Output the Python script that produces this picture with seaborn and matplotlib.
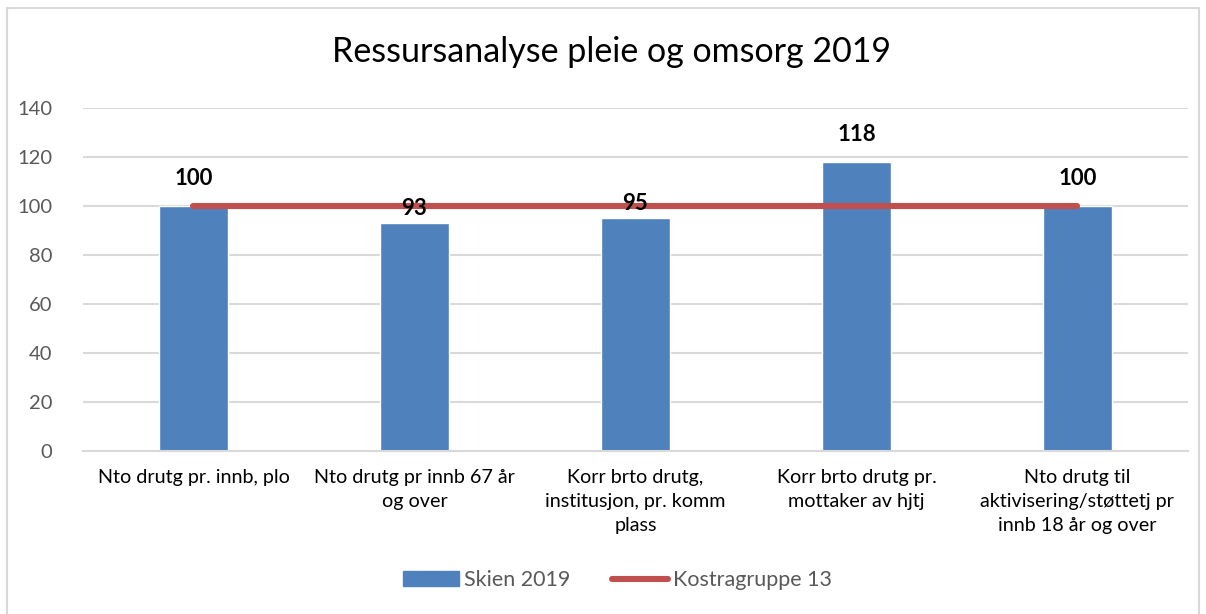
import matplotlib
matplotlib.use("Agg")
import matplotlib.pyplot as plt
from matplotlib.patches import Rectangle
from matplotlib.lines import Line2D
import seaborn as sns
import pandas as pd

categories = [
    "Nto drutg pr. innb, plo",
    "Nto drutg pr innb 67 år\nog over",
    "Korr brto drutg,\ninstitusjon, pr. komm\nplass",
    "Korr brto drutg pr.\nmottaker av hjtj",
    "Nto drutg til\naktivisering/støttetj pr\ninnb 18 år og over",
]
skien_2019 = [100, 93, 95, 118, 100]
kostragruppe_13 = [100, 100, 100, 100, 100]
y_ticks = [0, 20, 40, 60, 80, 100, 120, 140]

BAR_COLOR = "#4F81BD"
LINE_COLOR = "#C0504D"
GRID_COLOR = "#D9D9D9"
TEXT_GREY = "#595959"

sns.set_theme(style="white")
plt.rcParams["font.family"] = ["Lato", "DejaVu Sans"]

fig = plt.figure(figsize=(12.06, 6.14), dpi=100)
ax = fig.add_axes([0.0688, 0.2655, 0.9162, 0.5586])

df = pd.DataFrame({"kategori": categories, "verdi": skien_2019})
sns.barplot(data=df, x="kategori", y="verdi", color=BAR_COLOR, saturation=1,
            width=0.31, ax=ax, zorder=2)

ax.plot(range(len(categories)), kostragruppe_13, color=LINE_COLOR, lw=4.4,
        solid_capstyle="round", zorder=3)

# value labels above the bars
label_offsets = [19.5, 10.5, 10.5, 20, 19.5]
for i, (v, off) in enumerate(zip(skien_2019, label_offsets)):
    ax.annotate(f"{v}", (i, v), xytext=(0, off), textcoords="offset points",
                ha="center", va="center", fontsize=16, fontweight="bold",
                color="black", zorder=4)

ax.set_ylim(0, 140)
ax.set_xlim(-0.5, len(categories) - 0.5)
ax.set_yticks(y_ticks)
ax.yaxis.grid(True, color=GRID_COLOR, lw=1.5, zorder=0)
ax.set_axisbelow(True)
for side in ["top", "right", "left"]:
    ax.spines[side].set_visible(False)
ax.spines["bottom"].set_color(GRID_COLOR)
ax.spines["bottom"].set_linewidth(1.5)
ax.set_xlabel("")
ax.set_ylabel("")

ax.tick_params(axis="y", length=0, labelsize=14.5, labelcolor=TEXT_GREY, pad=22)
ax.tick_params(axis="x", which="major", length=0, labelsize=14.2,
               labelcolor="black", pad=13)
ax.set_xticks([i - 0.5 for i in range(len(categories) + 1)], minor=True)
ax.tick_params(axis="x", which="minor", length=5, width=1.5, color=GRID_COLOR)
for lbl in ax.get_xticklabels():
    lbl.set_linespacing(1.5)
for lbl in ax.get_yticklabels():
    lbl.set_horizontalalignment("right")

fig.text(0.507, 0.915, "Ressursanalyse pleie og omsorg 2019", ha="center",
         va="center", fontsize=24.5, color="black")

handles = [
    Rectangle((0, 0), 1, 1, color=BAR_COLOR),
    Line2D([0], [0], color=LINE_COLOR, lw=4.4, solid_capstyle="round"),
]
fig.legend(handles, ["Skien 2019", "Kostragruppe 13"], loc="center",
           bbox_to_anchor=(0.512, 0.055), ncol=2, frameon=False, fontsize=15.5,
           labelcolor=TEXT_GREY, handlelength=2.6, handletextpad=0.25,
           columnspacing=1.9)

# outer chart border
fig.patches.append(Rectangle((7 / 1206, -0.05), 1192 / 1206, 1 - 8 / 614 + 0.05,
                             transform=fig.transFigure, fill=False,
                             edgecolor=GRID_COLOR, lw=1.5))

fig.savefig("out.png", dpi=100)
